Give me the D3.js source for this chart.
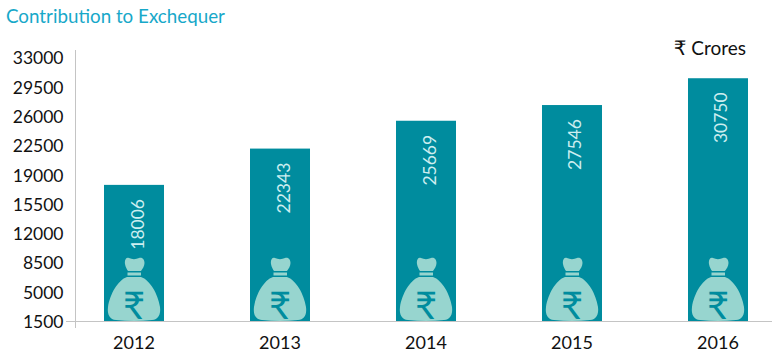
<!DOCTYPE html>
<html>
<head>
<meta charset="utf-8">
<script src="https://cdn.jsdelivr.net/npm/d3@7"></script>
<style>
  html, body { margin: 0; padding: 0; background: #fff; }
  svg { display: block; }
  text { font-family: Lato, "DejaVu Sans", sans-serif; }
</style>
</head>
<body>
<div id="chart"></div>
<script>
const years = ['2012', '2013', '2014', '2015', '2016'];
const contribution = [18006, 22343, 25669, 27546, 30750];
const tickValues = [1500, 5000, 8500, 12000, 15500, 19000, 22500, 26000, 29500, 33000];

const width = 778;
const height = 364;
const axisY = 321;
const barColor = '#008c9e';
const bagColor = '#97d5cf';

const svg = d3.select('#chart').append('svg')
  .attr('width', width)
  .attr('height', height);

// the labels sit 2px above where the bars say the values are
const y = d3.scaleLinear().domain([1500, 33000]).range([323, 59.4]);
const x = d3.scaleBand().domain(years).range([104, 748]).paddingInner(0.589).paddingOuter(0);

const bag = svg.append('defs').append('symbol')
  .attr('id', 'bag')
  .attr('viewBox', '0 0 60 64')
  .attr('overflow', 'visible');
bag.append('path')
  .attr('fill', bagColor)
  .attr('d', 'M25 1C22 -0.5 20.5 3 21 7C21.5 10 23 12.5 24 14L37 14C38.5 12 40.5 9 40.5 6C40.5 1 37 0 35 1C32 2.5 28 2.5 25 1Z');
bag.append('path')
  .attr('fill', bagColor)
  .attr('d', 'M23.5 15.5L37 15.5L37 18.5L23.5 18.5Z');
bag.append('path')
  .attr('fill', bagColor)
  .attr('d', 'M23 20L37 20C46 23 54 37 56 50C57 58 54 62.5 48 63C36 64.2 24 64.2 12 63C6 62.5 3 58 4 50C6 37 14 23 23 20Z');

svg.append('text')
  .attr('x', 6)
  .attr('y', 23)
  .attr('fill', '#17a8c9')
  .attr('font-size', 18.8)
  .text('Contribution to Exchequer');

const unit = svg.append('text')
  .attr('x', 746)
  .attr('y', 55)
  .attr('text-anchor', 'end')
  .attr('fill', '#111')
  .attr('font-size', 19);
unit.append('tspan').attr('font-family', '"DejaVu Sans"').attr('font-size', 20).text('₹');
unit.append('tspan').text(' Crores');

const bars = svg.append('g')
  .selectAll('g')
  .data(years)
  .join('g');

bars.append('rect')
  .attr('x', d => x(d))
  .attr('y', (d, i) => y(contribution[i]))
  .attr('width', x.bandwidth())
  .attr('height', (d, i) => axisY - y(contribution[i]))
  .attr('fill', barColor);

bars.append('use')
  .attr('href', '#bag')
  .attr('x', d => x(d))
  .attr('y', axisY - 64)
  .attr('width', 60)
  .attr('height', 64);

bars.append('text')
  .attr('x', d => x(d) + x.bandwidth() / 2)
  .attr('y', axisY - 17)
  .attr('text-anchor', 'middle')
  .attr('dominant-baseline', 'central')
  .attr('fill', barColor)
  .attr('font-size', 38)
  .attr('font-family', '"DejaVu Sans"')
  .text('₹');

bars.append('text')
  .attr('transform', (d, i) => `translate(${x(d) + x.bandwidth() / 2 + 3},${y(contribution[i]) + 39.5}) rotate(-90)`)
  .attr('text-anchor', 'middle')
  .attr('dominant-baseline', 'central')
  .attr('fill', '#cdeef0')
  .attr('font-size', 17.5)
  .text((d, i) => contribution[i]);

const yAxis = svg.append('g')
  .attr('transform', 'translate(75.5,0)')
  .call(d3.axisLeft(y).tickValues(tickValues).tickFormat(d3.format('d')).tickSize(0).tickPadding(12));
yAxis.select('.domain').remove();
yAxis.selectAll('text')
  .attr('dy', null)
  .attr('dominant-baseline', 'central')
  .attr('transform', 'translate(0,-2)')
  .attr('font-size', 17.5)
  .attr('font-family', 'Lato')
  .attr('fill', '#111');

svg.append('line')
  .attr('x1', 75.5).attr('x2', 75.5)
  .attr('y1', 50).attr('y2', 328)
  .attr('stroke', '#c4c4c4');
svg.append('line')
  .attr('x1', 66).attr('x2', 772)
  .attr('y1', axisY + 0.5).attr('y2', axisY + 0.5)
  .attr('stroke', '#c4c4c4');

svg.append('g')
  .selectAll('text')
  .data(years)
  .join('text')
  .attr('x', d => x(d) + x.bandwidth() / 2)
  .attr('y', 349)
  .attr('text-anchor', 'middle')
  .attr('fill', '#111')
  .attr('font-size', 18)
  .text(d => d);
</script>
</body>
</html>
